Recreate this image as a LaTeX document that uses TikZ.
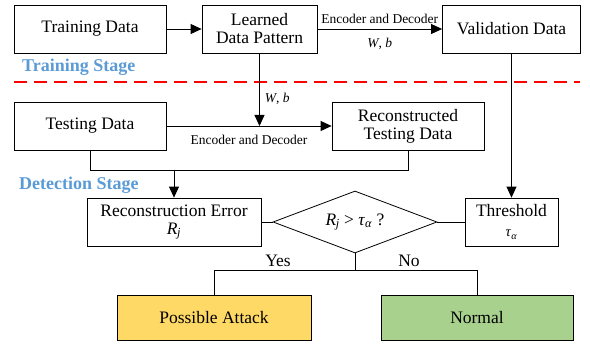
\documentclass[tikz,border=0pt]{standalone}
\usepackage{fontspec}
\setmainfont{Liberation Serif}
\newfontfamily\tnr{Liberation Serif}
\usetikzlibrary{shapes.geometric,arrows.meta}
\definecolor{stageblue}{RGB}{91,155,213}
\definecolor{attackyellow}{RGB}{255,217,102}
\definecolor{normalgreen}{RGB}{169,209,142}
\newcommand{\Rj}{\textit{R}\textsubscript{\kern-0.5pt\textit{j}}}
\newcommand{\tauA}{\textit{τ}\textsubscript{\textit{α}}}
\tikzset{
  box/.style={draw, line width=0.8pt, inner sep=0pt, align=center, font=\tnr\fontsize{17.5}{21}\selectfont, minimum height=48pt},
  conn/.style={line width=0.8pt},
  arr/.style={line width=0.8pt, -{Triangle[length=11pt,width=10pt]}},
  small/.style={font=\tnr\fontsize{13.5}{16}\selectfont, inner sep=0pt},
  stage/.style={font=\tnr\fontsize{18}{21}\selectfont\bfseries, text=stageblue, inner sep=0pt, anchor=west},
  lbl/.style={font=\tnr\fontsize{17.5}{21}\selectfont, inner sep=0pt}
}
\begin{document}
\begin{tikzpicture}[x=1pt,y=-1pt]
\useasboundingbox (0,0) rectangle (590,345);
% top row
\node[box, minimum width=152pt] (train) at (90,29) {Training Data};
\node[box, minimum width=115pt] (learn) at (259.5,29) {Learned\\[-3pt]Data Pattern};
\node[box, minimum width=138pt] (valid) at (511.5,29) {Validation Data};
\draw[arr] (train) -- (learn);
\draw[arr] (learn) -- node[small, above=5pt] {Encoder and Decoder} node[small, below=9pt] {\textit{W}, \textit{b}} (valid);
% stage separator
\node[stage] (tstage) at (22,67) {Training Stage};
\coordinate (dl) at (14,82);
\coordinate (dr) at (580,82);
\draw[red, line width=1.8pt, dash pattern=on 13pt off 7pt] (dl) -- (dr);
% testing row
\node[box, minimum width=152pt] (test) at (90,126) {Testing Data};
\node[box, minimum width=152pt] (recon) at (408,126) {Reconstructed\\[-3pt]Testing Data};
\draw[arr] (test) -- node[small, pos=0.5, below=9pt] {Encoder and Decoder} (recon);
\coordinate (wb) at (learn.south |- test.east);
\draw[arr] (learn.south) -- node[small, right=5pt, pos=0.62] {\textit{W}, \textit{b}} (wb);
% detection
\node[stage] (dstage) at (19,185) {Detection Stage};
\node[box, minimum width=174pt] (err) at (174,222) {Reconstruction Error\\[-3pt]\Rj};
\node[box, minimum width=93pt] (thr) at (511.5,222) {Threshold\\[-1pt]{\fontsize{14.5}{16}\selectfont\tauA}};
\node[diamond, draw, line width=0.8pt, minimum width=164pt, minimum height=62pt, inner sep=0pt] (dec) at (355,222) {};
\node[lbl] (q) at (dec.center) {\Rj\ > \tauA\ ?};
\coordinate (jl) at (90,170);
\coordinate (jr) at (408,170);
\coordinate (ja) at (err.north |- jl);
\draw[conn] (test.south) -- (jl) -- (jr) -- (recon.south);
\draw[arr] (ja) -- (err.north);
\draw[arr] (valid.south) -- (thr.north);
\draw[conn] (err.east) -- (dec.west);
\draw[conn] (dec.east) -- (thr.west);
% outcomes
\node[box, fill=attackyellow, minimum width=194pt, minimum height=45pt] (atk) at (214,317.5) {Possible Attack};
\node[box, fill=normalgreen, minimum width=192pt, minimum height=45pt] (nrm) at (477,317.5) {Normal};
\coordinate (br) at (355,270);
\draw[conn] (dec.south) -- (br);
\draw[conn] (atk.north) -- (atk.north |- br) -- (nrm.north |- br) -- (nrm.north);
\node[lbl] (yes) at (278,261) {Yes};
\node[lbl] (no) at (409,261) {No};
\end{tikzpicture}
\end{document}
